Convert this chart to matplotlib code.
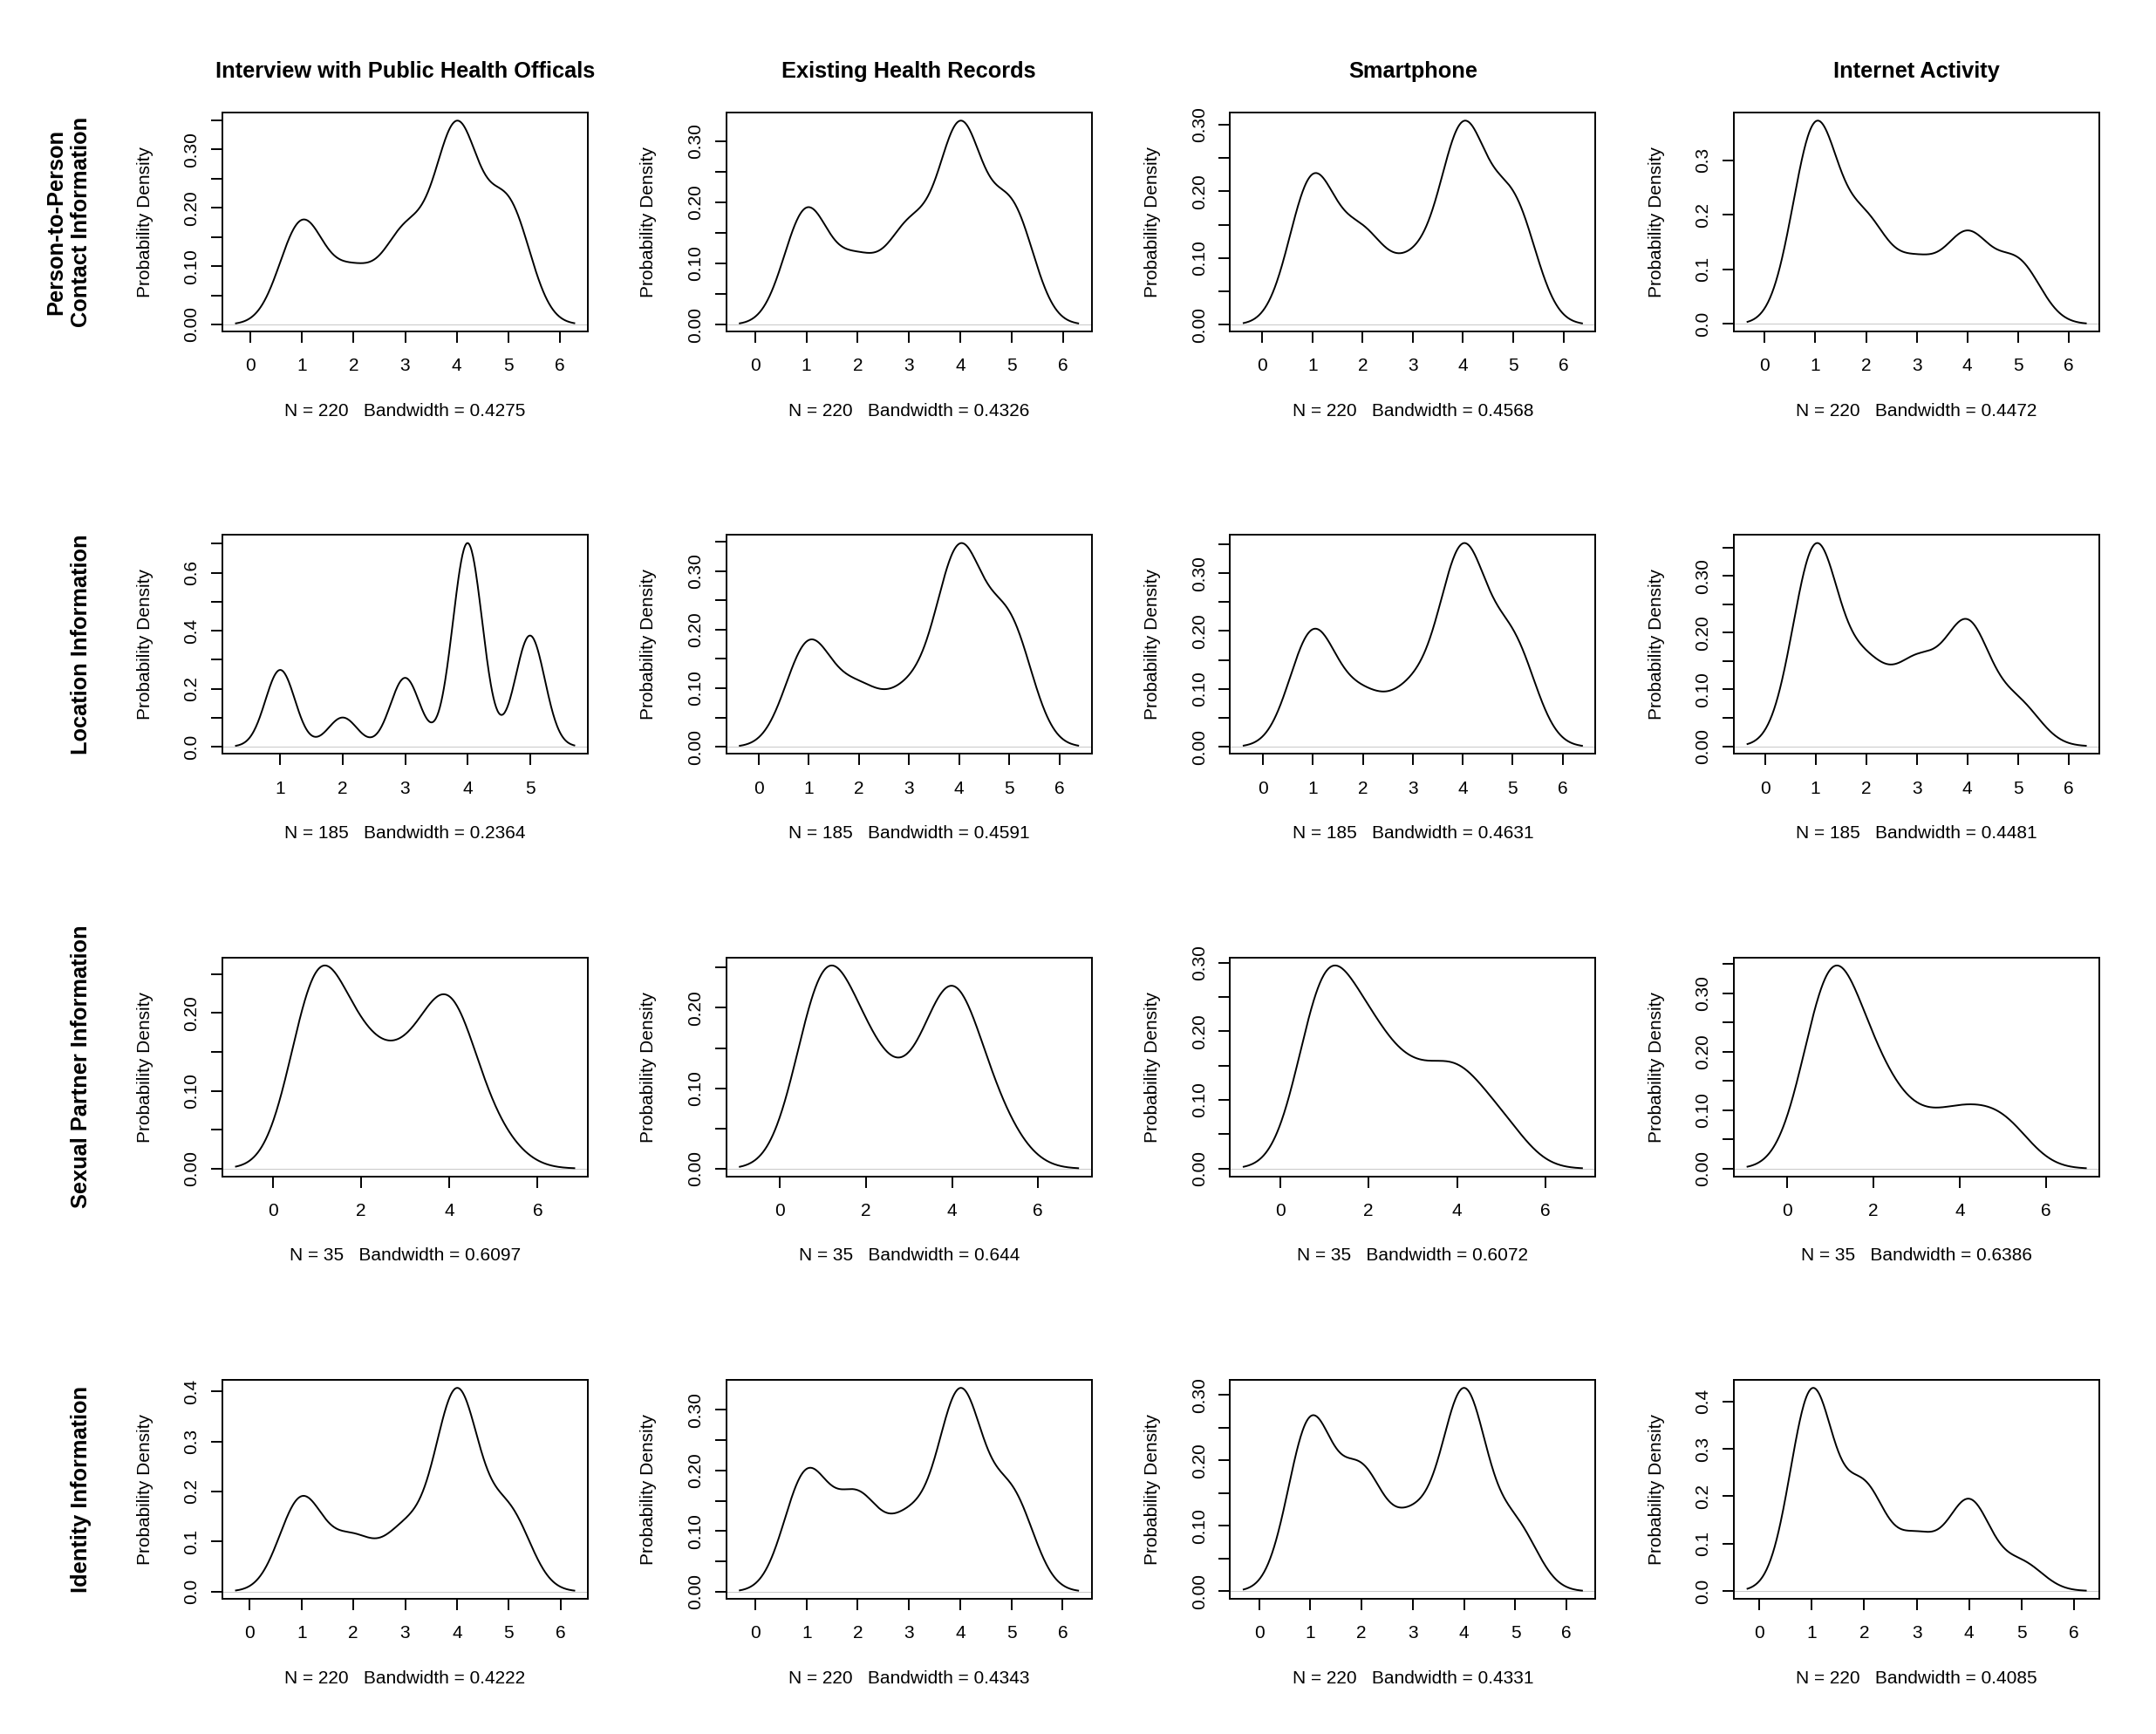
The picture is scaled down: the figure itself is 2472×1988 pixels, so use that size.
import numpy as np
import matplotlib
matplotlib.use('Agg')
import matplotlib.pyplot as plt

plt.rcParams['font.family'] = ['Liberation Sans', 'DejaVu Sans']

W, H = 2472, 1988

methods = ['Interview with Public Health Officals', 'Existing Health Records',
           'Smartphone', 'Internet Activity']
info_types = ['Person-to-Person\nContact Information', 'Location Information',
              'Sexual Partner Information', 'Identity Information']
ratings = np.array([1, 2, 3, 4, 5])

# number of answers for ratings 1..5, one list per method (same order as methods)
contact_counts = [[41, 20, 35, 77, 47], [44, 23, 35, 74, 44], [54, 31, 20, 71, 44], [88, 42, 25, 38, 27]]
location_counts = [[29, 11, 26, 77, 42], [37, 19, 18, 68, 43], [42, 17, 19, 70, 37], [72, 27, 28, 43, 15]]
sexual_counts = [[12, 6, 5, 10, 2], [12, 6, 3, 11, 3], [13, 8, 5, 6, 3], [17, 7, 3, 4, 4]]
identity_counts = [[43, 23, 27, 91, 36], [46, 35, 26, 76, 37], [61, 41, 24, 71, 23], [94, 47, 24, 42, 13]]

# kernel bandwidths printed under each panel
contact_bw = [0.4275, 0.4326, 0.4568, 0.4472]
location_bw = [0.2364, 0.4591, 0.4631, 0.4481]
sexual_bw = [0.6097, 0.644, 0.6072, 0.6386]
identity_bw = [0.4222, 0.4343, 0.4331, 0.4085]

all_counts = [contact_counts, location_counts, sexual_counts, identity_counts]
all_bw = [contact_bw, location_bw, sexual_bw, identity_bw]


def r_pretty(lo, hi, n=5):
    # tick step chosen the way R's axis() does it
    cell = (hi - lo) / n
    base = 10 ** np.floor(np.log10(cell))
    unit = base
    if 2 * base - cell < 0.8 * (cell - unit):
        unit = 2 * base
        if 5 * base - cell < 1.7 * (cell - unit):
            unit = 5 * base
            if 10 * base - cell < 0.8 * (cell - unit):
                unit = 10 * base
    ticks = np.arange(np.ceil(lo / unit - 1e-9), np.floor(hi / unit + 1e-9) + 1) * unit
    return ticks, unit


def decimals(unit):
    return int(max(0, -np.floor(np.log10(unit) + 1e-9)))


def density(counts, bw):
    # gaussian kde on R's default grid (min - 3bw .. max + 3bw, 512 points)
    counts = np.asarray(counts)
    xs = np.linspace(ratings.min() - 3 * bw, ratings.max() + 3 * bw, 512)
    z = (xs[:, None] - ratings[None, :]) / bw
    ys = (np.exp(-0.5 * z ** 2) * counts).sum(axis=1) / (counts.sum() * bw * np.sqrt(2 * np.pi))
    return xs, ys


fig = plt.figure(figsize=(W / 100, H / 100), dpi=100)

box_w, box_h = 419, 251
for i, (counts_row, bw_row) in enumerate(zip(all_counts, all_bw)):
    top = 129 + i * 484.3
    mid_y = 1 - (top + box_h / 2) / H
    for j, (counts, bw) in enumerate(zip(counts_row, bw_row)):
        left = 255 + j * 577.7
        ax = fig.add_axes([left / W, 1 - (top + box_h) / H, box_w / W, box_h / H])

        xs, ys = density(counts, bw)
        ax.axhline(0, color='#bebebe', lw=0.6, zorder=1)
        ax.plot(xs, ys, color='black', lw=1.4, zorder=2)

        xpad = 0.04 * (xs.max() - xs.min())
        ypad = 0.04 * (ys.max() - ys.min())
        ax.set_xlim(xs.min() - xpad, xs.max() + xpad)
        ax.set_ylim(ys.min() - ypad, ys.max() + ypad)

        xt, xu = r_pretty(*ax.get_xlim())
        yt, yu = r_pretty(*ax.get_ylim())
        ax.set_xticks(xt)
        ax.set_xticklabels([f'{round(v, 6) + 0.0:.{decimals(xu)}f}' for v in xt])
        ylabels = [f'{round(v, 6) + 0.0:.{decimals(yu)}f}' for v in yt]
        if len(yt) > 5:
            # R drops every other label when they would overlap
            ylabels = [lab if k % 2 == 0 else '' for k, lab in enumerate(ylabels)]
        ax.set_yticks(yt)
        ax.set_yticklabels(ylabels, rotation=90, va='center')

        for sp in ax.spines.values():
            sp.set_linewidth(1.4)
        ax.tick_params(axis='both', length=9.4, width=1.4, labelsize=15)
        ax.tick_params(axis='x', pad=12.5)
        ax.tick_params(axis='y', pad=9)

        cx = (left + box_w / 2) / W
        fig.text(cx, 1 - (top + box_h + 96.7) / H,
                 f'N = {sum(counts)}   Bandwidth = {bw:.4g}',
                 ha='center', va='baseline', fontsize=15)
        fig.text((left - 83.5) / W, mid_y, 'Probability Density', rotation=90,
                 rotation_mode='anchor', ha='center', va='baseline', fontsize=15)

        if i == 0:
            fig.text(cx, 1 - 89 / H, methods[j], ha='center', va='baseline',
                     fontsize=18.3, fontweight='bold')

    lines = info_types[i].split('\n')
    for k, line in enumerate(lines):
        bx = 100 - 29 * (len(lines) - 1 - k)
        fig.text(bx / W, mid_y, line, rotation=90, rotation_mode='anchor',
                 ha='center', va='baseline', fontsize=18.3, fontweight='bold')

fig.savefig('out.png', dpi=100, facecolor='white')
